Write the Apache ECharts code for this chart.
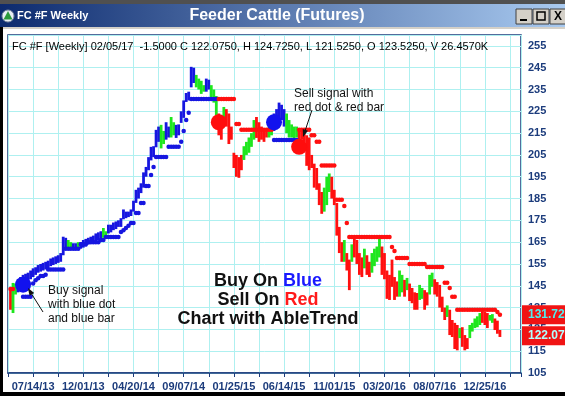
<!DOCTYPE html>
<html><head><meta charset="utf-8">
<script src="https://cdn.jsdelivr.net/npm/echarts@6/dist/echarts.min.js"></script>
<style>html,body{margin:0;padding:0;background:#fff}#c{width:565px;height:396px}</style>
</head><body><div id="c"></div>
<script>
// Weekly bars, week index 1..196 (week 0 = 05/05/13, last = 02/05/17)
const barHigh = [
 143,146.3,146,148,149,150,150.5,151,152,153,
 153.5,154.5,155,155.5,156,156.5,157.5,158,158.5,159,
 160,167.5,167,166,165,164.5,164.5,165,165,166,
 166.5,167,167.5,168,169,169.5,170,171.5,170,173,
 173,174,174.5,175,176,180,179,179,180,184,
 189,190,192,197,199.5,204,208.7,209,216.5,218,
 218.8,216,220,218,222.4,220,218.8,219,225,230,
 233.4,234,245.4,245,241.7,240,239,237,240,239.5,
 237,235,232,224,222,227,226,224,218,206,
 205,204,205,209,211,213,215,221,222.4,220,
 218,217,216,218,221,224,226,229,228,226,
 224,221,219,218,218,217,216.5,216,214,213,
 205,201,199,192,188,190,195,196.5,195,189,
 183,172,165,166,160,157,164,167,166,160,
 158,162,159,156,160,162,163,167,163,160,
 152,150,157,149,147,152,150,147.7,148.6,146,
 144,142,141.7,145.4,144,143,142,150,151,148,
 146.7,145.4,140,135,136,134,129.3,128,127,125.6,
 126,122.4,121,127,128,130,131,132.5,134,133,
 132.5,131.6,132,130,129,124.725
];
const barLow = [
 134,132.5,141,142,143,145,146,147,148,149,
 150,151,151.5,152,152.5,153,154,154.5,155,155.5,
 156,159,162,162,162.5,162,161.5,161.5,162,162.5,
 163,164,164.5,165,165,166,166.5,167,167,169,
 169.5,170.5,171,172,172,175.5,176,176.5,177,179,
 183,185,187.5,190,195,198,202.5,204,208.5,211,
 208,210,212,213,213,214,212.8,214,219.7,222,
 229.3,230,236,238,236,235,233,234,234,235,
 230,229,223,214,212,219,218,210,212,199,
 195,194.5,198,202.7,205,206,208.7,212,212.8,211,
 212,211,213,213,214,216,218,219,221,218,
 215,213,213,212,213,211,212,211,200,198,
 199,190,189,182,178,179,182,188,185,182,
 168,160,156,156,152,143,156,158,155,150,
 149,153,150,149,151,154,156,158,150,148,
 139,138.5,144.5,138.5,140,140,142,140,143,138,
 137,134,134,138.5,139,134,136,141,144.5,141,
 140,135,133,129.3,130.7,122.4,121.5,116,115.4,121,
 117,115.4,116,121,124,125.6,126,127,128,127,
 125.6,129,128,124.7,123,121.525
];
// trend colour of each bar: b = blue, g = green, r = red
const barState = (
 "rggbbbbbbb"+"bbbbbbbbbb"+"bbbggbbgbb"+"bbbbbbbggb"+"bbbbbbbbbb"+
 "bbbbbbbbbb"+"ggbbggbbbb"+"bbbbggggbb"+"gggrrgrrrr"+"rrrgggggrr"+
 "rrrggbbbbb"+"gggggrrrrr"+"rrrrrgggrr"+"rrrgrrgrrr"+"rgrrggggrr"+
 "rrrrrggrgr"+"rrrggrrggr"+"rrrrgrrrrg"+"rrrgggggrr"+"rggrrr").split('');
// AbleTrend stop dots
const stopLevel = [
 143.5,143.5,null,null,null,140,140,140,140,146,
 147.5,148.5,149.5,149.5,150,152.5,152.5,152.5,152.5,152.5,
 152.5,152.5,162,162,162,162,162,162,164,164,
 164,165,165,165,165,165,166,166,167.4,167.4,
 167.4,167.4,167.4,167.4,169.7,170.5,171.5,172.5,173.8,173.8,
 178.4,178.4,183,183,190.8,190.8,195.8,199.5,204,204,
 204,204,204,208.7,208.7,208.7,208.7,208.7,211,216,
 221,224.3,230.7,230.7,230.7,230.7,230.7,230.7,230.7,230.7,
 230.7,230.7,230.7,230.7,230.7,230.7,230.7,230.7,230.7,230.7,
 219.2,219.2,216.5,216.5,216.5,216.5,216.5,216.5,216.5,216.5,
 216.5,216.5,216.5,216.5,216.5,211.9,211.9,211.9,211.9,211.9,
 211.9,211.9,211.9,211.9,211.9,216.5,216.5,216.5,216.5,216.5,
 214,214,211,211,200.2,200.2,200.2,200.2,200.2,200.2,
 184.4,184.4,184.4,181.6,173.8,167.4,167.4,167.4,167.4,167.4,
 167.4,167.4,167.4,167.4,167.4,167.4,167.4,167.4,167.4,167.4,
 167.4,167.4,162.8,161,157.7,157.7,157.7,157.7,157.7,155,
 155,155,155,155,155,155,153.6,153.6,153.6,153.6,
 153.6,153.6,153.6,146.4,146.4,144,140,140,134,134,
 134,134,134,134,134,134,134,134,134,134,
 134,134,134,134,133,131.72
];
// runs of stop-dot colour [firstWeek, lastWeek, side]
const stopRuns = [[1,2,'r'],[6,83,'b'],[84,105,'r'],[106,115,'b'],[116,196,'r']];
// large signal dots [week, price, side]
const signals = [[6,145.5,'b'],[84,220,'r'],[106,220,'b'],[116,208.7,'r']];
// x tick labels
const xTickWeeks = [10,30,50,70,90,110,130,150,170,190];
const xTickLabels = ['07/14/13','12/01/13','04/20/14','09/07/14','01/25/15','06/14/15','11/01/15','03/20/16','08/07/16','12/25/16'];
const lastStop = 131.72, lastClose = 122.075;
const header = 'FC #F [Weekly] 02/05/17  -1.5000 C 122.0750, H 124.7250, L 121.5250, O 123.5250, V 26.4570K';

const COL = {b:'#1616e0', g:'#1ee61e', r:'#ff1010'};
const FONT = '"Liberation Sans", Arial, sans-serif';
const NAVY = '#1c3c7c';

function sideOf(w){ for(const r of stopRuns){ if(w>=r[0]&&w<=r[1]) return r[2]; } return null; }
const bars = barHigh.map((h,k)=>[k+1,h,barLow[k]]);
const blueStops=[], redStops=[];
stopLevel.forEach((v,k)=>{ if(v==null) return; const s=sideOf(k+1); (s==='b'?blueStops:redStops).push([k+1,v]); });

const chart = echarts.init(document.getElementById('c'));
chart.setOption({
  animation:false,
  backgroundColor:'#fff',
  grid:{left:8,right:44,top:35,bottom:23,show:true,borderColor:NAVY,borderWidth:1.5,backgroundColor:'#fff'},
  xAxis:{type:'value',min:0,max:204.4,interval:10,
    axisLine:{show:true,lineStyle:{color:NAVY,width:1.5}},
    axisTick:{show:true,length:4,lineStyle:{color:NAVY}},
    axisLabel:{color:NAVY,fontSize:11,fontWeight:'bold',fontFamily:FONT,margin:8,
      formatter:v=>{const k=xTickWeeks.indexOf(Math.round(v));return k>=0?xTickLabels[k]:'';}},
    splitLine:{show:true,lineStyle:{color:'#aef0f0',width:1}}},
  yAxis:{type:'value',position:'right',min:105,max:260,interval:10,
    axisLine:{show:false},axisTick:{show:false},
    axisLabel:{color:NAVY,fontSize:11,fontWeight:'bold',fontFamily:FONT,margin:7,
      formatter:v=>(v>=105&&v<=255&&Math.abs((v-105)%10)<0.01)?String(v):''},
    splitLine:{show:true,lineStyle:{color:'#aef0f0',width:1}}},
  series:[
    {type:'custom',clip:true,data:bars,encode:{x:0,y:[1,2]},
     renderItem:(params,api)=>{
       const x=api.value(0),hi=api.value(1),lo=api.value(2);
       const p1=api.coord([x,hi]),p2=api.coord([x,lo]);
       return {type:'rect',shape:{x:p1[0]-1.4,y:p1[1],width:2.8,height:Math.max(p2[1]-p1[1],1)},
         style:{fill:COL[barState[params.dataIndex]]}};
     }},
    {type:'scatter',data:blueStops,symbol:'circle',symbolSize:4.5,itemStyle:{color:'#1616e0',opacity:1},z:3},
    {type:'scatter',data:redStops,symbol:'circle',symbolSize:4.5,itemStyle:{color:'#ff1010',opacity:1},z:3},
    {type:'scatter',data:signals.map(s=>({value:[s[0],s[1]],itemStyle:{color:s[2]==='b'?'#1212ee':'#ff0d0d',opacity:1}})),
     symbol:'circle',symbolSize:16,z:4}
  ]
});

const y1 = chart.convertToPixel({yAxisIndex:0}, lastStop);
const y2 = chart.convertToPixel({yAxisIndex:0}, lastClose);
const arrowHead=(x,y,ang)=>({type:'polygon',shape:{points:[[x,y],[x+8*Math.cos(ang-0.35),y+8*Math.sin(ang-0.35)],[x+8*Math.cos(ang+0.35),y+8*Math.sin(ang+0.35)]]},style:{fill:'#111'},z:100});
chart.setOption({graphic:[
  // window frame / title bar
  {type:'rect',shape:{x:0,y:0,width:565,height:4},style:{fill:'#505050'},z:50},
  {type:'rect',shape:{x:0,y:4,width:565,height:23},style:{fill:new echarts.graphic.LinearGradient(0,0,1,0,[{offset:0,color:'#0c2a6e'},{offset:1,color:'#a9caf0'}])},z:50},
  {type:'rect',shape:{x:0,y:27,width:565,height:2},style:{fill:'#d4d0c8'},z:50},
  {type:'rect',shape:{x:0,y:27,width:3,height:369},style:{fill:'#000'},z:50},
  {type:'rect',shape:{x:0,y:392,width:565,height:4},style:{fill:'#000'},z:50},
  {type:'circle',shape:{cx:8,cy:16,r:6},style:{fill:'#e8eef4',stroke:'#7a8aa0',lineWidth:1},z:51},
  {type:'polygon',shape:{points:[[8,11],[12.5,19.5],[3.5,19.5]]},style:{fill:'#2a9a3a'},z:52},
  {type:'text',style:{text:'FC #F Weekly',x:17,y:16,fill:'#fff',font:'bold 11px '+FONT,verticalAlign:'middle'},z:52},
  {type:'text',style:{text:'Feeder Cattle (Futures)',x:277,y:16,fill:'#fff',font:'bold 16px '+FONT,align:'center',verticalAlign:'middle'},z:52},
  {type:'rect',shape:{x:516,y:9,width:16,height:15},style:{fill:'#d4d0c8',stroke:'#404040',lineWidth:1},z:51},
  {type:'rect',shape:{x:533,y:9,width:16,height:15},style:{fill:'#d4d0c8',stroke:'#404040',lineWidth:1},z:51},
  {type:'rect',shape:{x:550,y:9,width:16,height:15},style:{fill:'#d4d0c8',stroke:'#404040',lineWidth:1},z:51},
  {type:'rect',shape:{x:520,y:19,width:7,height:2},style:{fill:'#000'},z:52},
  {type:'rect',shape:{x:537,y:12,width:8,height:8},style:{fill:'none',stroke:'#000',lineWidth:1.5},z:52},
  {type:'text',style:{text:'X',x:554,y:17,fill:'#000',font:'bold 12px '+FONT,verticalAlign:'middle'},z:52},
  // header
  {type:'text',style:{text:header,x:12,y:47,fill:'#000',font:'11px '+FONT,verticalAlign:'middle'},z:60},
  // annotations
  {type:'text',style:{text:'Sell signal with\nred dot & red bar',x:294,y:87,fill:'#111',font:'12px '+FONT,lineHeight:14},z:60},
  {type:'line',shape:{x1:312,y1:110,x2:305,y2:131},style:{stroke:'#111',lineWidth:1},z:100},
  arrowHead(303,137,Math.atan2(131-137,305-303)),
  {type:'text',style:{text:'Buy signal\nwith blue dot\nand blue bar',x:48,y:284,fill:'#111',font:'12px '+FONT,lineHeight:14},z:60},
  {type:'line',shape:{x1:43,y1:312,x2:31,y2:293},style:{stroke:'#111',lineWidth:1},z:100},
  arrowHead(28,288,Math.atan2(293-288,31-28)),
  {type:'text',style:{text:'{k|Buy On }{b|Blue}',x:268,y:281,align:'center',verticalAlign:'middle',
    rich:{k:{fill:'#111',font:'bold 18px '+FONT},b:{fill:'#1a1aff',font:'bold 18px '+FONT}}},z:60},
  {type:'text',style:{text:'{k|Sell On }{r|Red}',x:268,y:300,align:'center',verticalAlign:'middle',
    rich:{k:{fill:'#111',font:'bold 18px '+FONT},r:{fill:'#ff1a1a',font:'bold 18px '+FONT}}},z:60},
  {type:'text',style:{text:'Chart with AbleTrend',x:268,y:319,align:'center',verticalAlign:'middle',fill:'#111',font:'bold 18px '+FONT},z:60},
  // last value boxes
  {type:'rect',shape:{x:522,y:y1-9.5,width:43,height:19},style:{fill:'#f01414'},z:60},
  {type:'text',style:{text:lastStop.toFixed(3),x:528,y:y1,fill:'#4df0f0',font:'bold 12px '+FONT,verticalAlign:'middle'},z:61},
  {type:'rect',shape:{x:522,y:y2-9.5,width:43,height:19},style:{fill:'#f01414'},z:60},
  {type:'text',style:{text:lastClose.toFixed(3),x:528,y:y2,fill:'#b0ffff',font:'bold 12px '+FONT,verticalAlign:'middle'},z:61}
]});
</script></body></html>
